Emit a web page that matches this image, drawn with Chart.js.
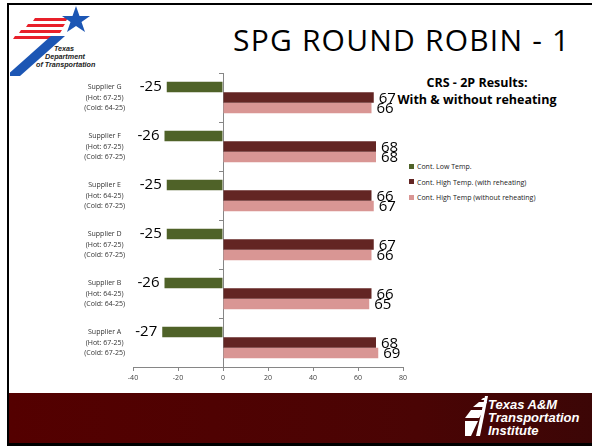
<!DOCTYPE html>
<html>
<head>
<meta charset="utf-8">
<script src="https://cdn.jsdelivr.net/npm/chart.js@4.4.1/dist/chart.umd.min.js"></script>
<style>
  html, body { margin: 0; padding: 0; background: #fff; }
  #slide { position: relative; width: 592px; height: 446px; overflow: hidden; font-family: "Open Sans", sans-serif; }
  #topline { position: absolute; left: 7px; top: 3px; width: 585px; height: 2px; background: #000; }
  #leftline { position: absolute; left: 7px; top: 3px; width: 2px; height: 443px; background: #000; }
  #banner { position: absolute; left: 9px; top: 393px; width: 583px; height: 50px; background: linear-gradient(to right, #540000, #4a0404 70%, #3c0606); }
  #bottomline { position: absolute; left: 7px; top: 443px; width: 585px; height: 3px; background: #000; }
  #title { position: absolute; left: 233px; top: 19px; font-size: 30px; letter-spacing: 1.2px; color: #000; white-space: nowrap; }
  #subtitle { position: absolute; left: 394px; top: 74px; width: 166px; text-align: center; font-weight: bold; font-size: 12.5px; line-height: 17px; color: #000; }
  #legend { position: absolute; left: 409px; top: 160px; font-size: 7px; color: #222; }
  #legend div { height: 15.5px; line-height: 14px; white-space: nowrap; }
  #legend span { display: inline-block; width: 5px; height: 5px; margin-right: 3px; vertical-align: middle; position: relative; top: -1px; }
  #chartbox { position: absolute; left: 0; top: 0; width: 592px; height: 446px; }
  #tti { position: absolute; left: 465px; top: 396px; }
  #txdot { position: absolute; left: 10px; top: 4px; }
</style>
</head>
<body>
<div id="slide">
  <div id="topline"></div>
  <div id="banner"></div>
  <div id="leftline"></div>
  <div id="bottomline"></div>

  <svg id="txdot" width="100" height="76" viewBox="0 0 100 76">
    <g fill="#e8202a">
      <polygon points="25,14 58,14 56,17 23,17"/>
      <polygon points="18,20 55,20 53,23 16,23"/>
      <polygon points="11,26 52,26 50,29 9,29"/>
      <polygon points="5,32 49,32 47,35 3,35"/>
    </g>
    <polygon fill="#1c56b4" points="66,2 69.5,12 80,12 71.5,18 75,28 66,22 57,28 60.5,18 52,12 62.5,12"/>
    <polygon fill="#1c56b4" points="41,32 55,32 10,72 -4,72"/>
    <g font-family="Liberation Sans, sans-serif" font-style="italic" font-weight="bold" font-size="7.2" fill="#222">
      <text x="44" y="47">Texas</text>
      <text x="35" y="55">Department</text>
      <text x="26" y="63">of Transportation</text>
    </g>
  </svg>

  <div id="title">SPG ROUND ROBIN - 1</div>
  <div id="subtitle">CRS - 2P Results:<br>With &amp; without reheating</div>
  <div id="legend"></div>

  <svg id="tti" width="124" height="44" viewBox="0 0 124 44">
    <g fill="#fff">
      <polygon points="18,2 22,2 20,4 16,4"/>
      <polygon points="14,6 22,6 19,11 8,11"/>
      <polygon points="6,14 19,14 14,22 0,22"/>
      <polygon points="0,25 13,25 6,40 0,40"/>
      <polygon points="20,0 23,0 15,40 11,40"/>
    </g>
    <g font-family="Liberation Sans, sans-serif" font-style="italic" font-weight="bold" font-size="13" fill="#fff">
      <text x="23" y="13">Texas A&amp;M</text>
      <text x="23" y="26">Transportation</text>
      <text x="23" y="39">Institute</text>
    </g>
  </svg>

  <div id="chartbox"><canvas id="chart" width="592" height="446"></canvas></div>
</div>
<script>
// suppliers, top to bottom
var categories = [
  ['Supplier G', '(Hot: 67-25)', '(Cold: 64-25)'],
  ['Supplier F', '(Hot: 67-25)', '(Cold: 67-25)'],
  ['Supplier E', '(Hot: 64-25)', '(Cold: 67-25)'],
  ['Supplier D', '(Hot: 67-25)', '(Cold: 67-25)'],
  ['Supplier B', '(Hot: 64-25)', '(Cold: 64-25)'],
  ['Supplier A', '(Hot: 67-25)', '(Cold: 67-25)']
];
var lowTemp = [-25, -26, -25, -25, -26, -27];
var highWithReheat = [67, 68, 66, 67, 66, 68];
var highWithoutReheat = [66, 68, 67, 66, 65, 69];
var seriesNames = ['Cont. Low Temp.', 'Cont. High Temp. (with reheating)', 'Cont. High Temp (without reheating)'];
var xTicks = [-40, -20, 0, 20, 40, 60, 80];

var colors = ['#4f6228', '#632523', '#d99694'];
var axisGray = '#868686';

// value labels next to bar ends
var valueLabels = {
  id: 'valueLabels',
  afterDatasetsDraw: function(chart) {
    var c = chart.ctx;
    c.save();
    c.font = '15px "Open Sans"';
    c.fillStyle = '#000';
    c.textBaseline = 'middle';
    chart.data.datasets.forEach(function(ds, i) {
      var meta = chart.getDatasetMeta(i);
      meta.data.forEach(function(bar, j) {
        var v = ds.data[j];
        if (v < 0) {
          c.textAlign = 'right';
          c.fillText(String(v), bar.x - 5, bar.y);
        } else {
          c.textAlign = 'left';
          c.fillText(String(v), bar.x + 5, bar.y + 1);
        }
      });
    });
    c.restore();
  }
};

// zero line ticks between the categories
var zeroTicks = {
  id: 'zeroTicks',
  afterDatasetsDraw: function(chart) {
    var c = chart.ctx, x0 = chart.scales.x.getPixelForValue(0);
    var area = chart.chartArea, n = categories.length;
    c.save();
    c.strokeStyle = axisGray;
    c.lineWidth = 1;
    c.beginPath();
    for (var k = 0; k < n; k++) {
      var y = Math.round(area.top + (area.bottom - area.top) * k / n) + 0.5;
      c.moveTo(x0 - 4, y);
      c.lineTo(x0, y);
    }
    c.stroke();
    c.restore();
  }
};

var chart = new Chart(document.getElementById('chart'), {
  type: 'bar',
  data: {
    labels: categories,
    datasets: [
      { label: seriesNames[0], data: lowTemp, backgroundColor: colors[0] },
      { label: seriesNames[1], data: highWithReheat, backgroundColor: colors[1] },
      { label: seriesNames[2], data: highWithoutReheat, backgroundColor: colors[2] }
    ]
  },
  options: {
    indexAxis: 'y',
    responsive: false,
    animation: false,
    devicePixelRatio: 1,
    categoryPercentage: 0.64,
    barPercentage: 1.0,
    layout: { padding: { left: 0, right: 189, top: 73, bottom: 59 } },
    plugins: {
      legend: { display: false },
      tooltip: { enabled: false }
    },
    scales: {
      x: {
        min: -40, max: 80,
        afterBuildTicks: function(s) { s.ticks = xTicks.map(function(v) { return { value: v }; }); },
        afterFit: function(s) { s.height = 20; },
        grid: {
          color: function(ctx) { return ctx.tick && ctx.tick.value === 0 ? axisGray : 'rgba(0,0,0,0)'; },
          tickColor: axisGray,
          tickLength: 4
        },
        border: { color: axisGray },
        ticks: { font: { family: 'Open Sans', size: 7 }, color: '#404040', padding: 3 }
      },
      y: {
        afterFit: function(s) { s.width = 133; },
        grid: { display: false, drawTicks: false },
        border: { display: false },
        ticks: { crossAlign: 'center', padding: 8, font: { family: 'Open Sans', size: 7, lineHeight: 1.45 }, color: '#333' }
      }
    }
  },
  plugins: [valueLabels, zeroTicks]
});

// html legend from the datasets
var lg = document.getElementById('legend');
chart.data.datasets.forEach(function(ds) {
  var row = document.createElement('div');
  var sw = document.createElement('span');
  sw.style.background = ds.backgroundColor;
  row.appendChild(sw);
  row.appendChild(document.createTextNode(ds.label));
  lg.appendChild(row);
});
</script>
</body>
</html>
